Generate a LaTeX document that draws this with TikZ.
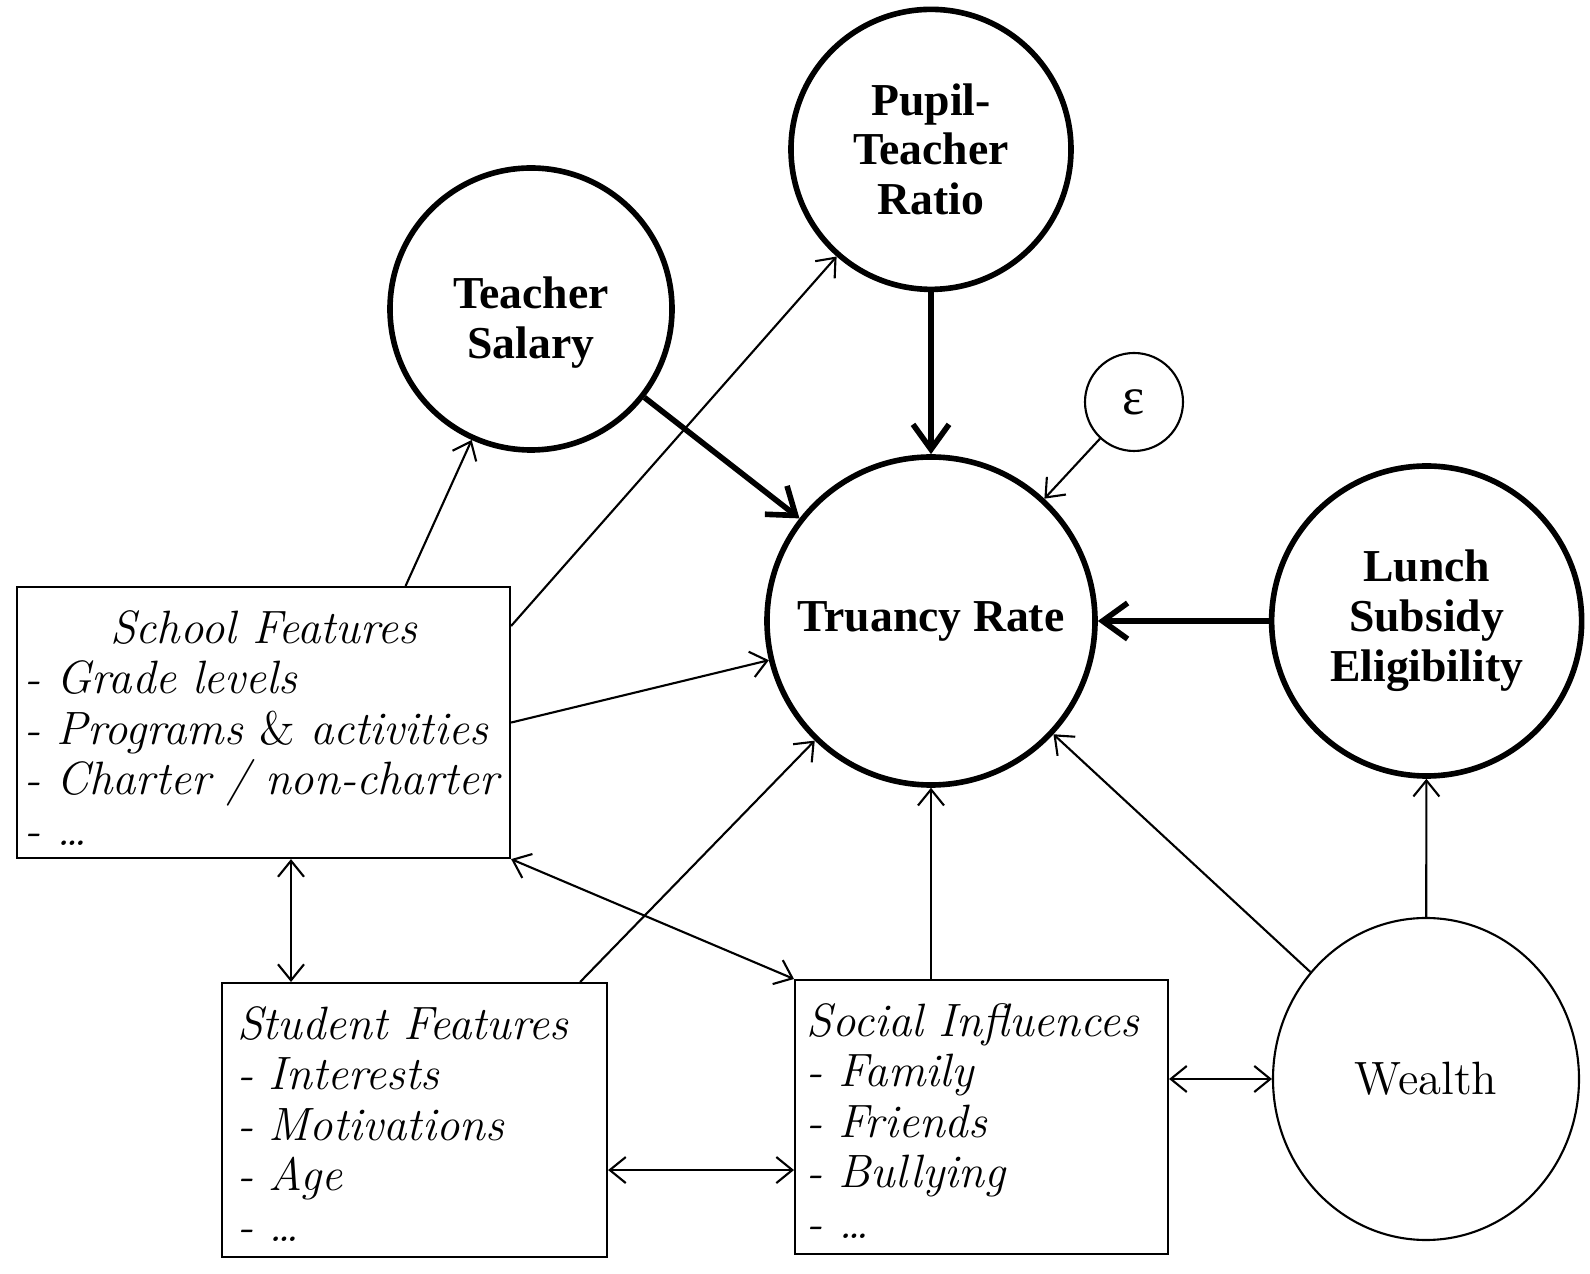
\documentclass[tikz,border=0pt]{standalone}
\usepackage{fontspec}
\usepackage{tikz}
\usetikzlibrary{arrows.meta,positioning,shapes.geometric}
\newfontfamily\headfont{Liberation Serif}

\begin{document}
\begin{tikzpicture}[every node/.style={font=\fontsize{13.3}{14.4}\selectfont}]
  \tikzset{latent/.style={circle,draw,line width=1.6pt,inner sep=0pt,align=center,
        font=\headfont\bfseries\fontsize{13}{14.2}\selectfont},
    plainnode/.style={draw,line width=0.6pt,inner sep=0pt},
    featbox/.style n args={3}{draw,line width=0.6pt,anchor=north west,inner sep=0pt,
        text width=#1,minimum width=#2,text height=0.56cm,text depth=#3,align=left,
        font=\fontsize{13.3}{14.4}\selectfont\itshape},
    heavy/.style={line width=1.6pt,-{Straight Barb[length=0.25cm,width=0.36cm]}},
    light/.style={line width=0.6pt,-{Straight Barb[length=0.16cm,width=0.26cm]}},
    twoway/.style={line width=0.6pt,{Straight Barb[length=0.16cm,width=0.26cm]}-{Straight Barb[length=0.16cm,width=0.26cm]}}}
  \useasboundingbox (0,0) rectangle (15.9,-12.74);
  % outcome and direct causes
  \node[latent,minimum size=3.28cm] (tr) at (9.31,-6.21) {Truancy Rate};
  \node[latent,minimum size=2.80cm,above=1.62cm of tr] (pt) {Pupil-\\Teacher\\Ratio};
  \node[latent,minimum size=2.82cm] (ts) at (5.31,-3.09) {\rule{0pt}{0.58cm}Teacher\\Salary};
  \node[latent,minimum size=3.10cm,right=1.71cm of tr] (lu) {Lunch\\Subsidy\\Eligibility};
  \node[plainnode,circle,minimum size=0.98cm,font=\headfont\fontsize{15}{16}\selectfont] (eps) at (11.34,-4.02) {ε};
  \node[plainnode,ellipse,minimum width=3.06cm,minimum height=3.22cm] (we) at (14.26,-10.79) {Wealth};
  % feature boxes
  \node[featbox={4.78cm}{4.93cm}{2.15cm}] (sf) at (0.16,-5.86)
    {\makebox[\linewidth]{School Features}\\- Grade levels\\- Programs \textup{\&} activities\\- Charter / non-charter\\- \ldots};
  \node[featbox={3.55cm}{3.85cm}{2.18cm}] (st) at (2.21,-9.82)
    {Student Features\\- Interests\\- Motivations\\- Age\\- \ldots};
  \node[featbox={3.50cm}{3.73cm}{2.18cm}] (so) at (7.94,-9.79)
    {Social Influences\\- Family\\- Friends\\- Bullying\\- \ldots};
  % thick paths
  \draw[heavy] (ts) -- (tr);
  \draw[heavy] (pt) -- (tr);
  \draw[heavy] (lu) -- (tr);
  % thin paths
  \draw[light] (eps) -- (tr);
  \draw[light] ([xshift=1.42cm]sf.north) -- (ts);
  \draw[light] ([yshift=-0.4cm]sf.north east) -- (pt);
  \draw[light] (sf.east) -- (tr);
  \draw[light] ([xshift=-0.28cm]st.north east) -- (tr);
  \draw[light] (so.north -| tr) -- (tr);
  \draw[light] (we) -- (tr);
  \draw[light] (we) -- (lu);
  \draw[twoway] ([xshift=0.7cm]st.north west) -- ([xshift=0.7cm]st.north west |- sf.south);
  \draw[twoway] (sf.south east) -- (so.north west);
  \draw[twoway] ([yshift=-0.5cm]st.east) -- ([yshift=-0.5cm]st.east -| so.west);
  \draw[twoway] (so.east |- we) -- (we);
\end{tikzpicture}
\end{document}
